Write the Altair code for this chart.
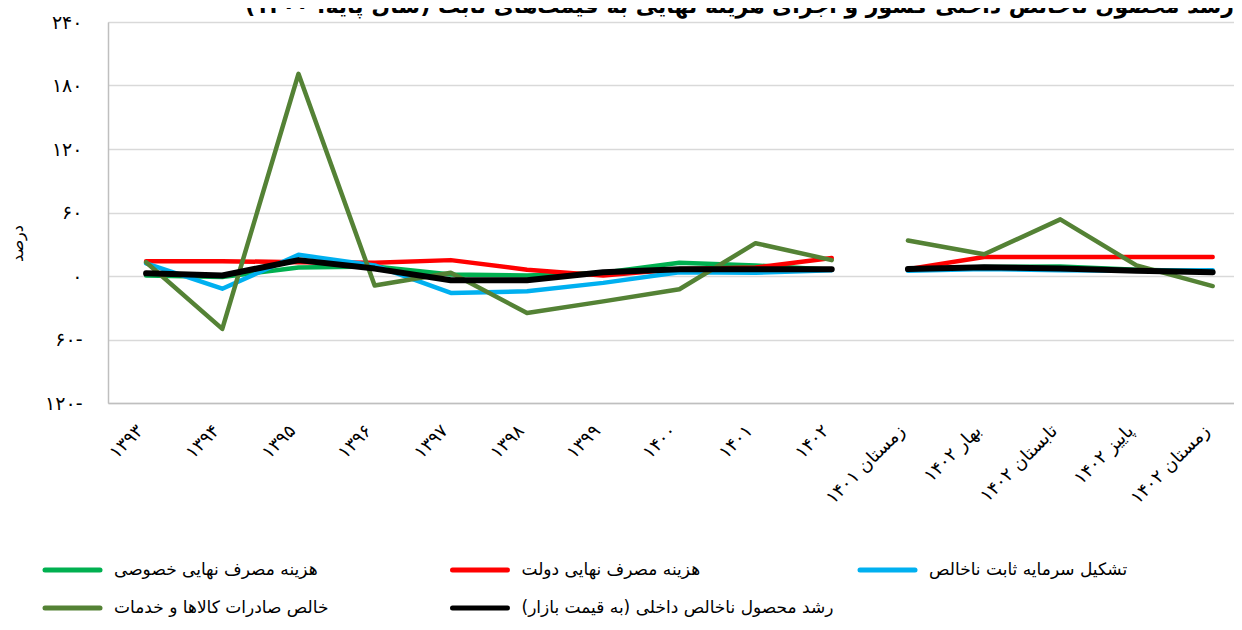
import altair as alt
import pandas as pd

FONT = "DejaVu Sans"

TITLE = "رشد محصول ناخالص داخلی کشور و اجزای هزینه نهایی به قیمت‌های ثابت (سال پایه: ۱۴۰۰)"
Y_TITLE = "درصد"

CATEGORIES = ['۱۳۹۳', '۱۳۹۴', '۱۳۹۵', '۱۳۹۶', '۱۳۹۷', '۱۳۹۸', '۱۳۹۹', '۱۴۰۰', '۱۴۰۱', '۱۴۰۲',
              'زمستان ۱۴۰۱', 'بهار ۱۴۰۲', 'تابستان ۱۴۰۲', 'پاییز ۱۴۰۲', 'زمستان ۱۴۰۲']
ANNUAL_COUNT = 10  # first 10 categories are annual, the rest quarterly (line breaks between)

SERIES = ['هزینه مصرف نهایی خصوصی', 'هزینه مصرف نهایی دولت', 'تشکیل سرمایه ثابت ناخالص',
          'خالص صادرات کالاها و خدمات', 'رشد محصول ناخالص داخلی (به قیمت بازار)']
COLORS = ['#00B050', '#FF0000', '#00B0F0', '#548235', '#000000']

private_cons = [0.5, -1, 8, 9, 1.5, 0.5, 3, 12.5, 10, 6, 6, 8.5, 9, 6, 4.5]
gov_cons = [14, 14, 13, 12.5, 15, 6, 0.5, 6.5, 8, 17, 6.5, 18, 18, 18, 18]
gfcf = [12, -12, 20, 10, -16, -14.5, -6.5, 3.5, 3, 5.5, 5, 6.5, 5.5, 5, 5.5]
net_exports = [13, -50, 191, -9, 3, -35, -24, -12.5, 31, 15, 33.5, 20.5, 53.5, 10, -9.5]
gdp = [2.5, 0.5, 15, 7, -4, -4, 3.5, 6.3, 6.3, 6.3, 6.5, 8.3, 7, 5, 3.6]

Y_TICKS = [-120, -60, 0, 60, 120, 180, 240]
Y_TICK_LABELS = ['۱۲۰-', '۶۰-', '۰', '۶۰', '۱۲۰', '۱۸۰', '۲۴۰']

all_values = [private_cons, gov_cons, gfcf, net_exports, gdp]
rows = []
for name, vals in zip(SERIES, all_values):
    for i, v in enumerate(vals):
        rows.append({"series": name, "idx": i, "value": v,
                     "segment": 0 if i < ANNUAL_COUNT else 1})
df = pd.DataFrame(rows)

x_expr = "[" + ",".join("'" + c + "'" for c in CATEGORIES) + "][datum.value]"
y_expr = "''"
for t, lab in zip(Y_TICKS, Y_TICK_LABELS):
    y_expr = f"datum.value == {t} ? '{lab}' : (" + y_expr + ")"

x_enc = alt.X("idx:Q", scale=alt.Scale(domain=[-0.5, 14.28], nice=False, zero=False),
              axis=alt.Axis(values=list(range(len(CATEGORIES))), labelExpr=x_expr,
                            labelAngle=315, labelAlign="right", labelBaseline="middle",
                            labelPadding=25, labelOffset=-6, ticks=False, tickSize=0,
                            grid=False, title=None, labelFontSize=18, labelFont=FONT,
                            labelColor="#000000", domainColor="#BFBFBF", domainWidth=1.5,
                            labelOverlap=False, labelBound=False, labelFlush=False))
y_enc = alt.Y("value:Q", scale=alt.Scale(domain=[-120, 240], nice=False, zero=False),
              axis=alt.Axis(values=Y_TICKS, labelExpr=y_expr, title=Y_TITLE,
                            titleX=-91, titleY=221, titleAngle=270, titleBaseline="middle",
                            titleAlign="center", titleFontSize=16, titleFontWeight="normal",
                            titleFont=FONT, titleColor="#000000",
                            labelFontSize=19, labelFont=FONT, labelColor="#000000",
                            labelPadding=26, ticks=False, tickSize=0,
                            domainColor="#BFBFBF", domainWidth=1.5,
                            gridColor="#D9D9D9", gridWidth=1.3, labelOverlap=False))

widths = [4.5, 4.5, 4.5, 4.5, 6]
layers = []
for name, color, w in zip(SERIES, COLORS, widths):
    layers.append(
        alt.Chart(df).transform_filter(alt.datum.series == name)
        .mark_line(color=color, strokeWidth=w, strokeCap="round", strokeJoin="round")
        .encode(x=x_enc, y=y_enc, detail="segment:N")
    )

# manual legend (3 columns, RTL text next to a line swatch)
LEG_X0, LEG_DX, LEG_Y0, LEG_DY, SW_LEN, TXT_GAP = -63, 407.5, 548, 38, 55, 14
leg_rows = []
for i, (name, color) in enumerate(zip(SERIES, COLORS)):
    col, row = i % 3, i // 3
    x1 = LEG_X0 + col * LEG_DX
    leg_rows.append({"name": name, "color": color, "x1": x1, "x2": x1 + SW_LEN,
                     "tx": x1 + SW_LEN + TXT_GAP, "ly": LEG_Y0 + row * LEG_DY})
leg_df = pd.DataFrame(leg_rows)

leg_sw = alt.Chart(leg_df).mark_rule(strokeWidth=5, strokeCap="round").encode(
    x=alt.X("x1:Q", scale=None, axis=None), x2="x2:Q",
    y=alt.Y("ly:Q", scale=None, axis=None),
    color=alt.Color("color:N", scale=None))
leg_tx = alt.Chart(leg_df).mark_text(align="left", baseline="middle", fontSize=17,
                                      font=FONT, color="#000000").encode(
    x=alt.X("tx:Q", scale=None, axis=None), y=alt.Y("ly:Q", scale=None, axis=None),
    text="name:N")

lines = alt.layer(*layers)
chart = alt.layer(lines, leg_sw, leg_tx).resolve_scale(x="independent", y="independent").properties(
    width=1126, height=381,
    autosize=alt.AutoSizeParams(type="none"),
    padding={"left": 100, "top": 14, "right": 0, "bottom": 217},
    title=alt.TitleParams(TITLE, anchor="end", fontSize=22, fontWeight="bold", font=FONT,
                          color="#000000", offset=-5),
).configure_view(strokeWidth=0).configure(background="white")

chart.save("out.html", embed_options={"renderer": "svg", "actions": False})
